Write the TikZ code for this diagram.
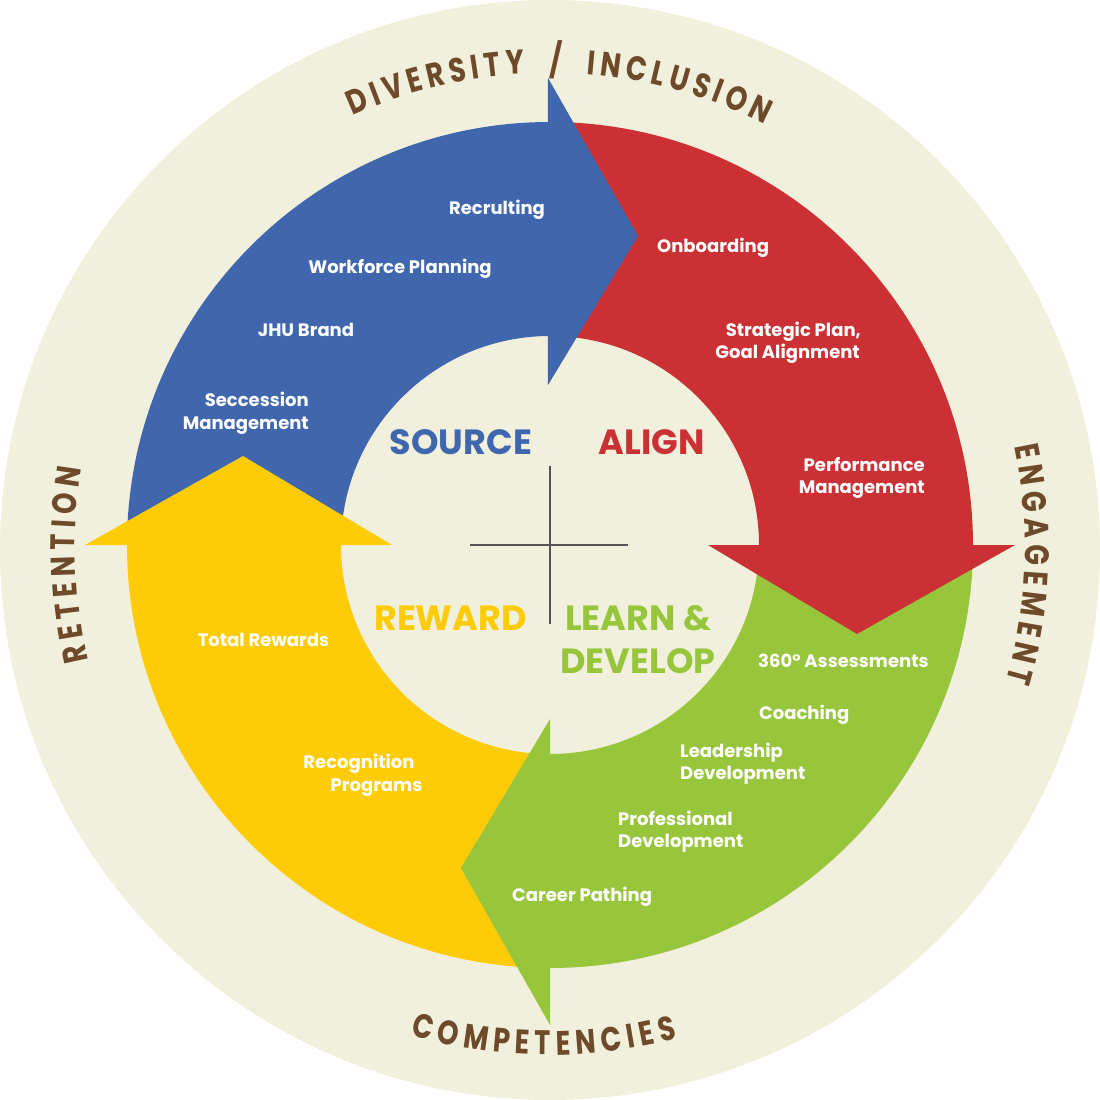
\documentclass[tikz,border=0pt]{standalone}
\usepackage{fontspec}
\setmainfont{Poppins}
\newfontfamily\arcfont[FakeStretch=0.8]{Poppins}
\usetikzlibrary{decorations.text}
\definecolor{cblue}{HTML}{4066AE}
\definecolor{cred}{HTML}{CB3134}
\definecolor{cgreen}{HTML}{97C63D}
\definecolor{cyellow}{HTML}{FDCC07}
\definecolor{cbeige}{HTML}{F1F0DC}
\definecolor{cbrown}{HTML}{6E4A2A}
\definecolor{ccross}{HTML}{555555}
\newcommand\arcfontsel{\arcfont\bfseries\fontsize{34}{34}\selectfont}
\begin{document}
\begin{tikzpicture}[x=1pt,y=1pt,
  lab/.style={text=white,font=\bfseries\fontsize{18}{23}\selectfont,inner sep=0pt},
  hub/.style={font=\bfseries\fontsize{35}{40}\selectfont,inner sep=0pt},
  arctext/.style={font=\arcfontsel,decorate,decoration={text along path,text align=center,
     text={|\arcfontsel\color{cbrown}|#1}}},
  crossline/.style={draw=ccross,line width=1.3pt}
]
\useasboundingbox (-550,-555) rectangle (550,545);
\fill[cbeige] (0,-5) circle[radius=550];
% ring segments
\fill[cblue] (180:423) arc[start angle=180,end angle=90,radius=423] -- (90:209) arc[start angle=90,end angle=180,radius=209] -- cycle;
\fill[cred] (90:423) arc[start angle=90,end angle=0,radius=423] -- (0:209) arc[start angle=0,end angle=90,radius=209] -- cycle;
\fill[cgreen] (0:423) arc[start angle=0,end angle=-90,radius=423] -- (-90:209) arc[start angle=-90,end angle=0,radius=209] -- cycle;
\fill[cyellow] (-90:423) arc[start angle=-90,end angle=-180,radius=423] -- (-180:209) arc[start angle=-180,end angle=-90,radius=209] -- cycle;
% arrow heads
\fill[cblue] (-2,467) -- (88,309) -- (-2,160) -- cycle;
\fill[cred] (158,0) -- (465,0) -- (307,-89) -- cycle;
\fill[cgreen] (0,-174) -- (0,-480) -- (-89,-323) -- cycle;
\fill[cyellow] (-465,0) -- (-158,0) -- (-307,89) -- cycle;
% cross
\coordinate (cl) at (-80,0); \coordinate (cr) at (78,0);
\coordinate (ct) at (0,79); \coordinate (cb) at (0,-79);
\draw[crossline] (cl) -- (cr);
\draw[crossline] (ct) -- (cb);
% curved texts
\path[arctext={{D\kern4.8pt}{I\kern4.8pt}{V\kern4.8pt}{E\kern4.8pt}{R\kern4.8pt}{S\kern4.8pt}{I\kern4.8pt}{T\kern4.8pt}{Y\kern25pt}{/\kern25pt}{I\kern4.8pt}{N\kern4.8pt}{C\kern4.8pt}{L\kern4.8pt}{U\kern4.8pt}{S\kern4.8pt}{I\kern4.8pt}{O\kern4.8pt}{N}}]
  (0,-3) ++(128.8:475) arc[start angle=128.8,end angle=48.8,radius=475];
\path[arctext={{E\kern5.5pt}{N\kern5.5pt}{G\kern5.5pt}{A\kern5.5pt}{G\kern5.5pt}{E\kern5.5pt}{M\kern5.5pt}{E\kern5.5pt}{N\kern5.5pt}{T}}]
  (0,-3) ++(38:475) arc[start angle=38,end angle=-42,radius=475];
\path[arctext={{R\kern5.5pt}{E\kern5.5pt}{T\kern5.5pt}{E\kern5.5pt}{N\kern5.5pt}{T\kern5.5pt}{I\kern5.5pt}{O\kern5.5pt}{N}}]
  (0,-3) ++(222:475) arc[start angle=222,end angle=142,radius=475];
\path[arctext={{C\kern5.5pt}{O\kern5.5pt}{M\kern5.5pt}{P\kern5.5pt}{E\kern5.5pt}{T\kern5.5pt}{E\kern5.5pt}{N\kern5.5pt}{C\kern5.5pt}{I\kern5.5pt}{E\kern5.5pt}{S}}]
  (0,-3) ++(229.3:507) arc[start angle=229.3,end angle=309.3,radius=507];
% hub labels
\node[hub,text=cblue,anchor=base] (source) at (-89,90) {SOURCE};
\node[hub,text=cred,anchor=base] (align) at (101.7,90) {ALIGN};
\node[hub,text=cyellow,anchor=base] (reward) at (-99.5,-85) {REWARD};
\node[hub,text=cgreen,anchor=base] (learn) at (88,-85) {LEARN \&};
\node[hub,text=cgreen,anchor=base] (develop) at (88,-128) {DEVELOP};
% source labels
\node[lab,anchor=base] (rec) at (-53,330) {Recrulting};
\node[lab,anchor=base] (wfp) at (-150,271) {Workforce Planning};
\node[lab,anchor=base] (jhu) at (-244,208) {JHU Brand};
\node[lab,anchor=base east] (sec1) at (-241,138) {Seccession};
\node[lab,anchor=base east] (sec2) at (-241,115) {Management};
% align labels
\node[lab,anchor=base west] (onb) at (107,292) {Onboarding};
\node[lab,anchor=base east] (str1) at (311,208) {Strategic Plan,};
\node[lab,anchor=base east] (str2) at (310,186) {Goal Alignment};
\node[lab,anchor=base east] (perf1) at (375,73) {Performance};
\node[lab,anchor=base east] (perf2) at (375,51) {Management};
% learn labels
\node[lab,anchor=base west] (ass) at (208,-122) {360° Assessments};
\node[lab,anchor=base west] (coa) at (209,-174) {Coaching};
\node[lab,anchor=base west] (lead1) at (130,-212) {Leadership};
\node[lab,anchor=base west] (lead2) at (130,-234) {Development};
\node[lab,anchor=base west] (prof1) at (68,-280) {Professional};
\node[lab,anchor=base west] (prof2) at (68,-302) {Development};
\node[lab,anchor=base west] (car) at (-38,-356) {Career Pathing};
% reward labels
\node[lab,anchor=base] (tot) at (-286.5,-101) {Total Rewards};
\node[lab,anchor=base] (recog) at (-191,-223) {Recognition};
\node[lab,anchor=base] (prog) at (-173.5,-246) {Programs};
\end{tikzpicture}
\end{document}
